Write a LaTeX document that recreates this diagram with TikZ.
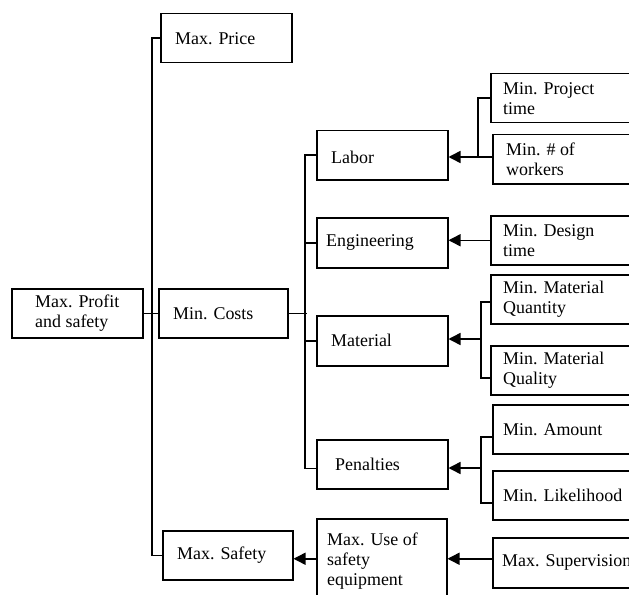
\documentclass[tikz,border=0pt]{standalone}
\usepackage{fontspec}
\setmainfont{Liberation Serif}
\usetikzlibrary{arrows.meta}
\begin{document}
\begin{tikzpicture}[x=1bp,y=-1bp,
  box/.style={draw, line width=1.5bp, rectangle, anchor=north west, inner sep=0pt},
  txt/.style={anchor=west, align=left, inner sep=0pt, font=\fontsize{18}{20}\selectfont},
  con/.style={line width=1.5bp},
  arr/.style={line width=1.5bp, -{Triangle[length=12bp,width=12bp]}}]
\useasboundingbox (0,0) rectangle (629,595);
\fill[white] (0,0) rectangle (629,595);

% level 0 and 1
\node[box, minimum width=131bp, minimum height=49bp] (root) at (11,288) {};
\node[txt] (rootT) at ([xshift=24bp]root.west) {Max. Profit\\and safety};
\node[box, minimum width=131bp, minimum height=49bp] (price) at (160,13) {};
\node[txt] (priceT) at ([xshift=15bp]price.west) {Max. Price};
\node[box, minimum width=129bp, minimum height=49bp] (costs) at (158,288) {};
\node[txt] (costsT) at ([xshift=15bp]costs.west) {Min. Costs};
\node[box, minimum width=130bp, minimum height=49bp] (safety) at (162,530) {};
\node[txt] (safetyT) at ([xshift=15bp]safety.west) {Max. Safety};

% level 2
\node[box, minimum width=131bp, minimum height=49bp] (labor) at (316,130) {};
\node[txt] (laborT) at ([xshift=15bp,yshift=-2bp]labor.west) {Labor};
\node[box, minimum width=131bp, minimum height=50bp] (eng) at (316,217) {};
\node[txt] (engT) at ([xshift=10bp]eng.west) {Engineering};
\node[box, minimum width=131bp, minimum height=50bp] (mat) at (316,315) {};
\node[txt] (matT) at ([xshift=15bp]mat.west) {Material};
\node[box, minimum width=131bp, minimum height=49bp] (pen) at (316,439) {};
\node[txt] (penT) at ([xshift=19bp]pen.west) {Penalties};
\node[box, minimum width=130bp, minimum height=90bp] (use) at (316,518) {};
\node[txt] (useT) at ([xshift=11bp,yshift=3bp]use.west) {Max. Use of\\safety\\equipment};

% level 3
\node[box, minimum width=160bp, minimum height=49bp] (proj) at (490,73) {};
\node[txt] (projT) at ([xshift=13bp]proj.west) {Min. Project\\time};
\node[box, minimum width=160bp, minimum height=49bp] (workers) at (492,134) {};
\node[txt] (workersT) at ([xshift=14bp]workers.west) {Min. \# of\\workers};
\node[box, minimum width=160bp, minimum height=49bp] (design) at (490,215) {};
\node[txt] (designT) at ([xshift=13bp]design.west) {Min. Design\\time};
\node[box, minimum width=160bp, minimum height=49bp] (qty) at (490,274) {};
\node[txt] (qtyT) at ([xshift=13bp]qty.west) {Min. Material\\Quantity};
\node[box, minimum width=160bp, minimum height=49bp] (qual) at (490,345) {};
\node[txt] (qualT) at ([xshift=13bp]qual.west) {Min. Material\\Quality};
\node[box, minimum width=160bp, minimum height=49bp] (amount) at (492,404) {};
\node[txt] (amountT) at ([xshift=11bp]amount.west) {Min. Amount};
\node[box, minimum width=160bp, minimum height=49bp] (likely) at (492,470) {};
\node[txt] (likelyT) at ([xshift=11bp]likely.west) {Min. Likelihood};
\node[box, minimum width=160bp, minimum height=50bp] (sup) at (492,537) {};
\node[txt] (supT) at ([xshift=10bp]sup.west) {Max. Supervision};

% tree connectors
\draw[con] (price.west) -- ++(-8,0) |- (safety.west);
\draw[con] (root.east) -- (costs.west);
\draw[con] (costs.east) -- ++(18,0);
\draw[con] (labor.west) -- ++(-11,0) |- ([yshift=-4bp]pen.west);
\draw[con] (eng.west) -- ++(-11,0);
\draw[con] (mat.west) -- ++(-11,0);

% labor
\coordinate (j1) at (478,157);
\draw[con] (proj.west) -| (j1);
\draw[arr] (workers.west |- j1) -- (labor.east |- j1);
% engineering
\draw[arr] (design.west) -- (design.west -| eng.east);
% material
\coordinate (j3) at (481,339);
\draw[con] ([yshift=-2.5bp]qty.west) -- ++(-9,0) |- ([yshift=-7.5bp]qual.west);
\draw[arr] (j3) -- (j3 -| mat.east);
% penalties
\coordinate (j4) at (481,468);
\draw[con] ([yshift=-7.5bp]amount.west) -- ++(-11,0) |- ([yshift=-7.5bp]likely.west);
\draw[arr] (j4) -- (j4 -| pen.east);
% safety
\coordinate (j5) at ([yshift=4bp]sup.west);
\draw[arr] (j5) -- (j5 -| use.east);
\draw[arr] (j5 -| use.west) -- (j5 -| safety.east);
\end{tikzpicture}
\end{document}
